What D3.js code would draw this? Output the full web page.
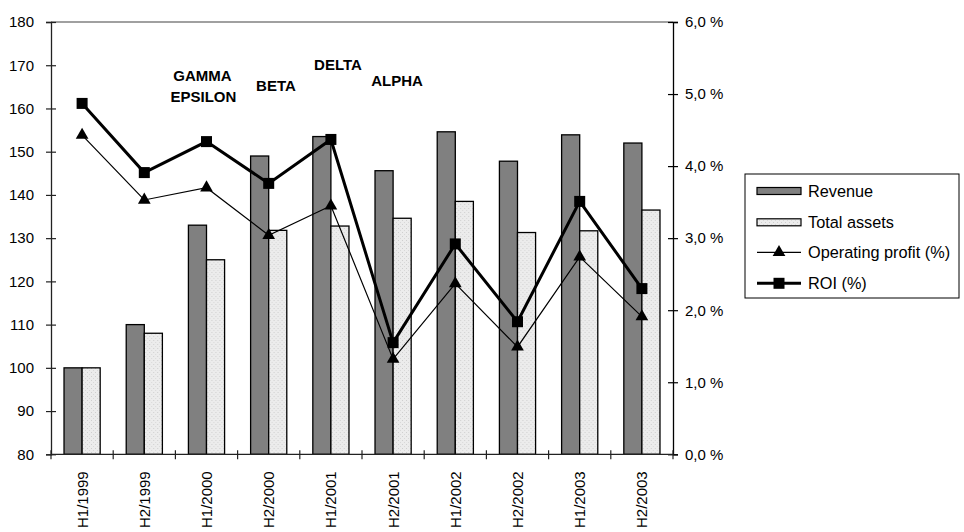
<!DOCTYPE html>
<html>
<head>
<meta charset="utf-8">
<script src="https://cdn.jsdelivr.net/npm/d3@7"></script>
<style>
  body { margin: 0; background: #fff; }
  text { font-family: "Liberation Sans", Arial, sans-serif; }
</style>
</head>
<body>
<div id="chart"></div>
<script>
// half-year periods
var periods = ["H1/1999", "H2/1999", "H1/2000", "H2/2000", "H1/2001",
               "H2/2001", "H1/2002", "H2/2002", "H1/2003", "H2/2003"];
// index values (left axis)
var revenue     = [100, 110, 133, 149, 153.5, 145.6, 154.6, 147.8, 153.9, 152];
var totalAssets = [100, 108, 125, 131.8, 132.8, 134.6, 138.5, 131.3, 131.7, 136.5];
// percent values (right axis)
var operatingProfit = [4.43, 3.53, 3.70, 3.04, 3.45, 1.32, 2.37, 1.49, 2.74, 1.91];
var roi             = [4.87, 3.91, 4.34, 3.76, 4.37, 1.55, 2.92, 1.84, 3.51, 2.30];
var leftTicks  = [80, 90, 100, 110, 120, 130, 140, 150, 160, 170, 180];
var rightTicks = [0, 1, 2, 3, 4, 5, 6];
// labels written over the chart, placed relative to a period
var notes = [
  {label: "GAMMA",   at: 2, dx: -0.064, y: 81},
  {label: "EPSILON", at: 2, dx: -0.05,  y: 101.7},
  {label: "BETA",    at: 3, dx: 0.117,  y: 91},
  {label: "DELTA",   at: 4, dx: 0.114,  y: 69.5},
  {label: "ALPHA",   at: 5, dx: 0.063,  y: 86}
];

var W = 964, H = 532;
var pLeft = 51, pRight = 673, pTop = 22, pBottom = 454.3;

var svg = d3.select("#chart").append("svg")
    .attr("width", W)
    .attr("height", H);

var defs = svg.append("defs");
var pat = defs.append("pattern")
    .attr("id", "dots")
    .attr("width", 4)
    .attr("height", 4)
    .attr("patternUnits", "userSpaceOnUse");
pat.append("rect").attr("width", 4).attr("height", 4).attr("fill", "#ececec");
pat.append("rect").attr("x", 0).attr("y", 0).attr("width", 1).attr("height", 1).attr("fill", "#cfcfcf");
pat.append("rect").attr("x", 2).attr("y", 2).attr("width", 1).attr("height", 1).attr("fill", "#d8d8d8");

var x = d3.scaleBand().domain(periods).range([pLeft, pRight]).paddingInner(0).paddingOuter(0);
var inner = d3.scaleBand().domain(["rev", "ta"]).range([0, x.bandwidth()]).paddingOuter(0.72).paddingInner(0);
var y = d3.scaleLinear().domain([80, 180]).range([pBottom, pTop]);
var y2 = d3.scaleLinear().domain([0, 6]).range([pBottom, pTop]);

// top frame line
svg.append("line")
    .attr("x1", pLeft).attr("x2", pRight)
    .attr("y1", pTop).attr("y2", pTop)
    .attr("stroke", "#808080").attr("stroke-width", 1.3);

// bars
var groups = svg.selectAll("g.grp")
    .data(periods)
  .enter().append("g")
    .attr("class", "grp")
    .attr("transform", function(d) { return "translate(" + x(d) + ",0)"; });

groups.append("rect")
    .attr("x", inner("rev"))
    .attr("width", inner.bandwidth())
    .attr("y", function(d, i) { return y(revenue[i]); })
    .attr("height", function(d, i) { return pBottom - y(revenue[i]); })
    .attr("fill", "#808080")
    .attr("stroke", "#000").attr("stroke-width", 1.3);

groups.append("rect")
    .attr("x", inner("ta"))
    .attr("width", inner.bandwidth())
    .attr("y", function(d, i) { return y(totalAssets[i]); })
    .attr("height", function(d, i) { return pBottom - y(totalAssets[i]); })
    .attr("fill", "url(#dots)")
    .attr("stroke", "#000").attr("stroke-width", 1.3);

// axes
var yAxis = svg.append("g")
    .attr("transform", "translate(" + pLeft + ",0)")
    .call(d3.axisLeft(y).tickValues(leftTicks).tickSize(5).tickPadding(12));
yAxis.select(".domain").attr("stroke", "#222").attr("stroke-width", 1.3);
yAxis.selectAll(".tick line").attr("x1", 5).attr("stroke", "#222").attr("stroke-width", 1.2);
yAxis.selectAll(".tick text").attr("font-size", 15).attr("fill", "#000")
    .attr("font-family", "Liberation Sans, Arial, sans-serif");

var y2Axis = svg.append("g")
    .attr("transform", "translate(" + pRight + ",0)")
    .call(d3.axisRight(y2).tickValues(rightTicks).tickSize(5).tickPadding(7)
      .tickFormat(function(d) { return d3.format(".1f")(d).replace(".", ",") + " %"; }));
y2Axis.select(".domain").attr("stroke", "#000").attr("stroke-width", 1.3);
y2Axis.selectAll(".tick line").attr("x1", -5).attr("stroke", "#000").attr("stroke-width", 1.2);
y2Axis.selectAll(".tick text").attr("font-size", 15).attr("fill", "#000")
    .attr("font-family", "Liberation Sans, Arial, sans-serif");

var xAxis = svg.append("g")
    .attr("transform", "translate(0," + pBottom + ")");
xAxis.append("line")
    .attr("x1", pLeft).attr("x2", pRight)
    .attr("stroke", "#222").attr("stroke-width", 1.3);
xAxis.selectAll("line.tk")
    .data(d3.range(periods.length + 1))
  .enter().append("line")
    .attr("class", "tk")
    .attr("x1", function(i) { return pLeft + i * x.step(); })
    .attr("x2", function(i) { return pLeft + i * x.step(); })
    .attr("y1", -4).attr("y2", 5)
    .attr("stroke", "#222").attr("stroke-width", 1.2);
xAxis.selectAll("text")
    .data(periods)
  .enter().append("text")
    .attr("transform", function(d) {
      return "translate(" + (x(d) + x.bandwidth() / 2) + ",17) rotate(-90)";
    })
    .attr("text-anchor", "end")
    .attr("dy", "0.36em")
    .attr("font-size", 15)
    .text(function(d) { return d; });

// lines
var cx = function(d, i) { return x(periods[i]) + x.bandwidth() / 2; };
var line = d3.line().x(function(d, i) { return cx(d, i); }).y(function(d) { return y2(d); });

svg.append("path")
    .attr("d", line(operatingProfit))
    .attr("fill", "none").attr("stroke", "#000").attr("stroke-width", 1.2);
svg.append("path")
    .attr("d", line(roi))
    .attr("fill", "none").attr("stroke", "#000").attr("stroke-width", 3);

var tri = d3.symbol().type(d3.symbolTriangle).size(70);
svg.selectAll("path.tri")
    .data(operatingProfit)
  .enter().append("path")
    .attr("class", "tri")
    .attr("d", tri)
    .attr("transform", function(d, i) { return "translate(" + cx(d, i) + "," + y2(d) + ")"; })
    .attr("fill", "#000");

svg.selectAll("rect.sq")
    .data(roi)
  .enter().append("rect")
    .attr("class", "sq")
    .attr("x", function(d, i) { return cx(d, i) - 5.5; })
    .attr("y", function(d) { return y2(d) - 5.5; })
    .attr("width", 11).attr("height", 11)
    .attr("fill", "#000");

// annotations
svg.selectAll("text.note")
    .data(notes)
  .enter().append("text")
    .attr("class", "note")
    .attr("x", function(d) { return x(periods[d.at]) + x.bandwidth() * (0.5 + d.dx); })
    .attr("y", function(d) { return d.y; })
    .attr("text-anchor", "middle")
    .attr("font-size", 15)
    .attr("font-weight", "bold")
    .text(function(d) { return d.label; });

// legend
var lg = svg.append("g").attr("transform", "translate(745,174)");
lg.append("rect")
    .attr("width", 214).attr("height", 124)
    .attr("fill", "#fff").attr("stroke", "#000").attr("stroke-width", 1);

var items = ["Revenue", "Total assets", "Operating profit (%)", "ROI (%)"];
var rowY = [17, 48.3, 78.3, 109.3];

lg.append("rect").attr("x", 12).attr("y", rowY[0] - 3.5).attr("width", 44).attr("height", 7)
    .attr("fill", "#808080").attr("stroke", "#000").attr("stroke-width", 1.2);
lg.append("rect").attr("x", 12).attr("y", rowY[1] - 3.5).attr("width", 44).attr("height", 7)
    .attr("fill", "url(#dots)").attr("stroke", "#000").attr("stroke-width", 1.2);
lg.append("line").attr("x1", 12).attr("x2", 56).attr("y1", rowY[2]).attr("y2", rowY[2])
    .attr("stroke", "#000").attr("stroke-width", 1.2);
lg.append("path").attr("d", tri).attr("transform", "translate(34," + rowY[2] + ")").attr("fill", "#000");
lg.append("line").attr("x1", 12).attr("x2", 56).attr("y1", rowY[3]).attr("y2", rowY[3])
    .attr("stroke", "#000").attr("stroke-width", 3);
lg.append("rect").attr("x", 28.5).attr("y", rowY[3] - 5.5).attr("width", 11).attr("height", 11).attr("fill", "#000");

lg.selectAll("text.li")
    .data(items)
  .enter().append("text")
    .attr("class", "li")
    .attr("x", 63)
    .attr("y", function(d, i) { return rowY[i]; })
    .attr("dy", "0.36em")
    .attr("font-size", 16.3)
    .text(function(d) { return d; });
</script>
</body>
</html>
